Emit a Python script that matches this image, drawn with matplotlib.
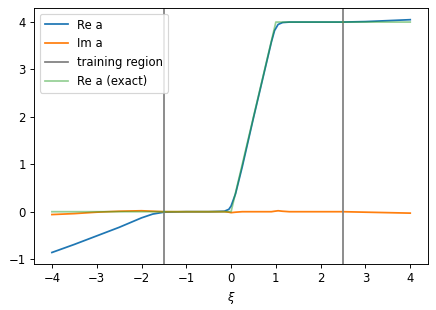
import numpy as np
import matplotlib
matplotlib.use("Agg")
import matplotlib.pyplot as plt

# learned solution
xi = [-4.0, -3.5, -3.0, -2.5, -2.0, -1.75, -1.5, -1.0, -0.5, -0.15, -0.05, 0.0, 0.1,
      0.25, 0.5, 0.75, 0.9, 0.97, 1.05, 1.15, 1.3, 2.0, 2.5, 3.0, 3.5, 4.0]
re_a = [-0.86, -0.69, -0.51, -0.33, -0.13, -0.05, -0.01, 0.0, 0.0, 0.01, 0.05, 0.12, 0.38,
        0.95, 1.98, 2.98, 3.58, 3.82, 3.95, 3.99, 4.0, 4.0, 4.0, 4.01, 4.03, 4.05]
im_a = [-0.06, -0.04, -0.01, 0.01, 0.02, 0.01, 0.0, 0.0, 0.0, 0.0, -0.01, -0.02, -0.01,
        0.0, 0.0, 0.0, 0.0, 0.01, 0.02, 0.01, 0.0, 0.0, 0.0, -0.01, -0.02, -0.03]

# exact solution
xi_exact = [-4.0, 0.0, 1.0, 4.0]
re_exact = [0.0, 0.0, 4.0, 4.0]

train_lo, train_hi = -1.5, 2.5

dpi = 84
fig = plt.figure(figsize=(436 / dpi, 310 / dpi), dpi=dpi)
ax = fig.add_axes([0.078, 0.148, 0.904, 0.826])

ax.plot(xi, re_a, label='Re a')
ax.plot(xi, im_a, label='Im a')
ax.axvline(train_lo, color='gray', label='training region')
ax.axvline(train_hi, color='gray')
ax.plot(xi_exact, re_exact, color='C2', alpha=0.5, label='Re a (exact)')

ax.set_xlabel(r'$\xi$')
ax.set_xticks(np.arange(-4, 5, 1))
ax.set_yticks(np.arange(-1, 5, 1))
ax.legend(loc='upper left')

fig.savefig('out.png', dpi=dpi)
